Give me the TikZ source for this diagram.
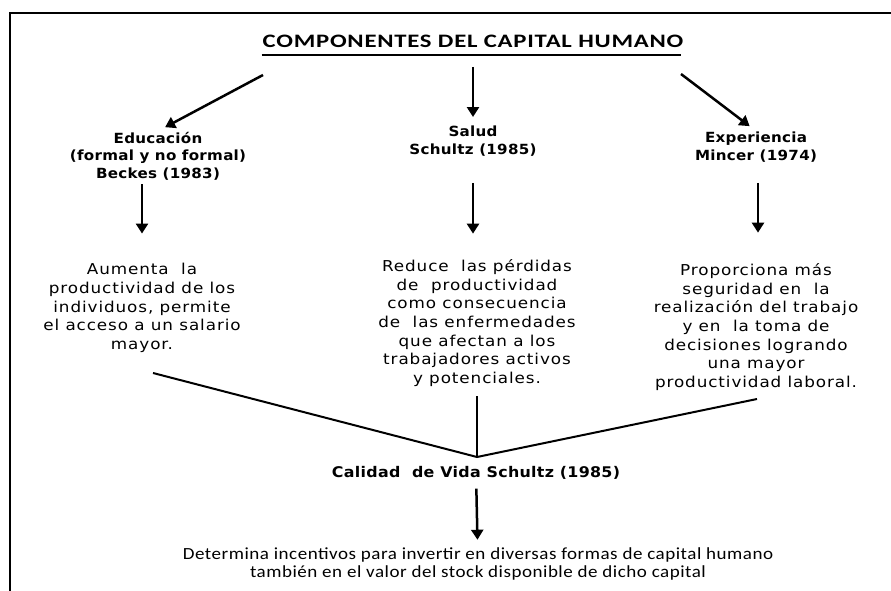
\documentclass[tikz,border=0pt]{standalone}
\usepackage{fontspec}
\usepackage{tikz}
\usetikzlibrary{arrows.meta}
\newfontfamily\bodyfont{DejaVu Sans}[FakeStretch=1.12, LetterSpace=6]
\newfontfamily\headfont{DejaVu Sans}[FakeStretch=1.08, LetterSpace=2]
\newfontfamily\titlefont{Carlito}[FakeStretch=1.3, LetterSpace=4]
\newfontfamily\footfont{Carlito}[FakeStretch=1.12, LetterSpace=3]

\begin{document}
\begin{tikzpicture}[x=1pt, y=-1pt, line width=2pt,
    head/.style = {align=center, inner sep=0pt, font=\headfont\bfseries\fontsize{14}{17.5}\selectfont},
    body/.style = {align=center, inner sep=0pt, font=\bodyfont\fontsize{15}{18.6}\selectfont},
    arr/.style = {-{Triangle[length=10pt, width=12pt]}, line width=2.5pt}]
    \useasboundingbox (0,0) rectangle (891,591);
    \draw[line width=1.3pt] (891,13) -- (10,13) -- (10,591); % frame

    \node[inner sep=0pt, font=\titlefont\bfseries\fontsize{19}{22}\selectfont] (T) at (473,41) {COMPONENTES DEL CAPITAL HUMANO};
    \draw ([yshift=-7pt]T.south west) -- ([yshift=-7pt, xshift=-3pt]T.south east);

    \node[head] (E) at (158,156) {Educación\\(formal y no formal)\\Beckes (1983)};
    \node[head] (S) at (473,141) {Salud\\Schultz (1985)};
    \node[head] (X) at (756,147) {Experiencia\\Mincer (1974)};

    \coordinate (t1) at (263,75);
    \coordinate (t2) at (473,67);
    \coordinate (t3) at (681,74);
    \draw[arr, shorten >=8pt] (t1) -- (E.north);
    \draw[arr, shorten >=8pt] (t2) -- (S.north);
    \draw[arr, shorten >=8pt] (t3) -- (X.north);

    \node[body] (A) at (142,308) {Aumenta~ la\\productividad de los\\individuos, permite\\el acceso a un salario\\mayor.};
    \node[body] (R) at (477,323) {Reduce~ las pérdidas\\de~ productividad\\como consecuencia\\de~ las enfermedades\\que afectan a los\\trabajadores activos\\y potenciales.};
    \node[body] (P) at (756,327) {Proporciona más\\seguridad en~ la\\realización del trabajo\\y en~ la toma de\\decisiones logrando\\una mayor\\productividad laboral.};

    \draw[arr, shorten <=3pt, shorten >=29pt] (E.south -| A.north) -- (A.north);
    \draw[arr, shorten <=26pt, shorten >=25pt] (S.south) -- (S.south |- R.north);
    \draw[arr, shorten <=20pt, shorten >=30pt] ([xshift=2pt]X.south) -- ([xshift=2pt]X.south |- P.north);

    \node[inner sep=0pt, font=\headfont\bfseries\fontsize{14.7}{16}\selectfont] (C) at (476,473) {Calidad~ de Vida Schultz (1985)};
    \node[inner sep=0pt, align=center, font=\footfont\fontsize{17}{18}\selectfont] (D) at (478,564) {Determina incentivos para invertir en diversas formas de capital humano\\también en el valor del stock disponible de dicho capital};

    \coordinate (J) at (477,457);
    \coordinate (la) at (153,373);
    \coordinate (lb) at (477,396);
    \coordinate (lc) at (757,399);
    \draw (la) -- (J) -- (lc);
    \draw (lb) -- (J); % joins the three effects
    \draw[arr, shorten <=8pt, shorten >=7pt] (C) -- (D);
\end{tikzpicture}
\end{document}
